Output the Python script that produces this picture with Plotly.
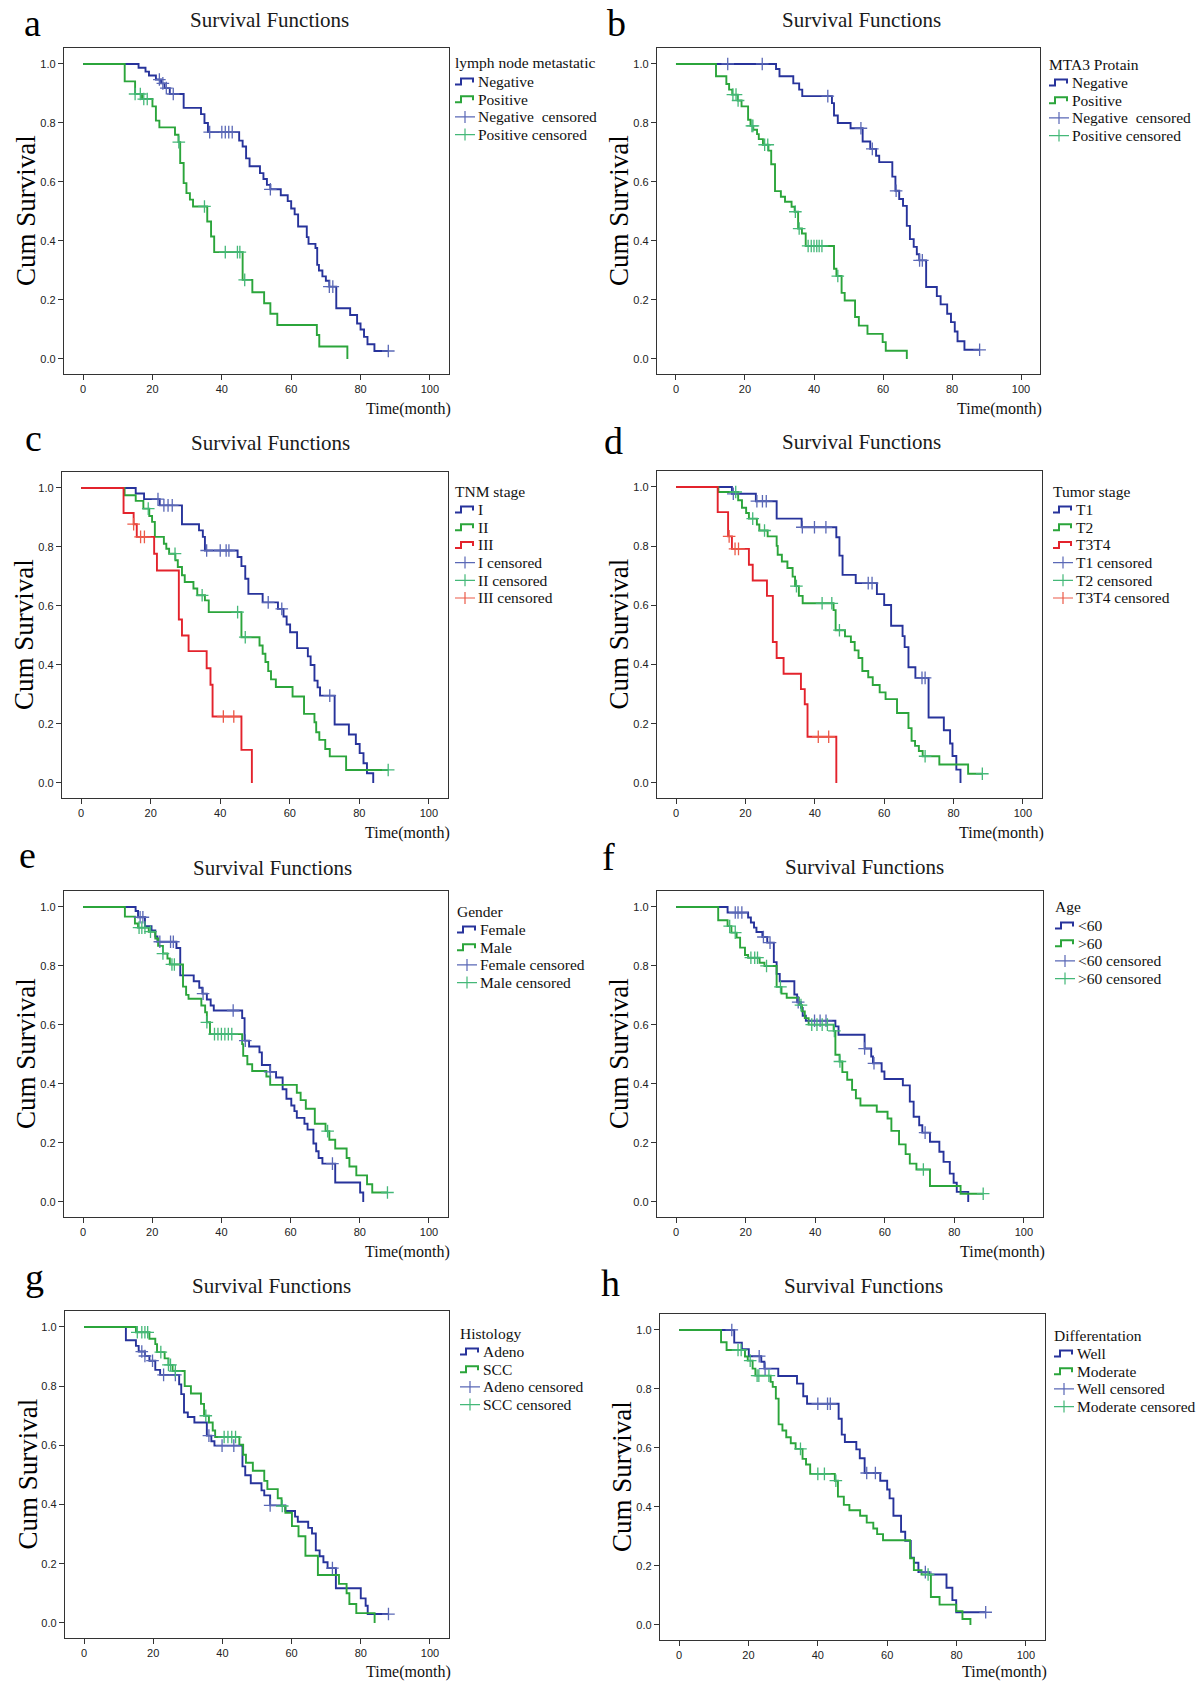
import bisect
import plotly.graph_objects as go

W, H = 1200, 1684

BLUE, BLUE_C = "#27339b", "#5a68b6"
GREEN, GREEN_C = "#2ba53b", "#44b878"
RED, RED_C = "#e3232c", "#ec5a48"

X_TICKS = [0, 20, 40, 60, 80, 100]
Y_TICKS = [0.0, 0.2, 0.4, 0.6, 0.8, 1.0]
PANEL_LETTERS = ["a", "b", "c", "d", "e", "f", "g", "h"]
PANEL_TITLE = "Survival Functions"
Y_TITLE = "Cum Survival"
X_TITLE = "Time(month)"

# ---------------- data (event times, survival after event, end of follow-up, censored times)
# a: lymph node metastatic
A_NEG_T = [16, 18, 19, 21, 22.5, 23.5, 25, 29, 34, 35, 36, 45, 46, 47, 48, 51, 52, 53, 54, 57, 59, 60, 61, 62, 64.5, 65, 67, 67.5, 68, 69, 70, 71, 73, 77, 79, 80, 81, 82, 84]
A_NEG_S = [0.987, 0.974, 0.961, 0.947, 0.934, 0.918, 0.898, 0.851, 0.830, 0.800, 0.769, 0.740, 0.720, 0.680, 0.653, 0.630, 0.610, 0.590, 0.575, 0.555, 0.535, 0.510, 0.490, 0.449, 0.413, 0.390, 0.376, 0.319, 0.300, 0.280, 0.265, 0.245, 0.172, 0.149, 0.120, 0.100, 0.075, 0.050, 0.027]
A_NEG_END = 88
A_NEG_CENS = [22, 23, 24, 26, 36.5, 40, 41, 42, 43, 54, 71, 72, 88]
A_POS_T = [12, 15, 17, 20, 21, 22, 26.5, 27.5, 28, 29, 29.8, 30.8, 31.7, 35.8, 36.9, 37.8, 46, 48.8, 52.2, 54, 56, 67.4, 68.1, 76.2]
A_POS_S = [0.941, 0.898, 0.881, 0.856, 0.808, 0.785, 0.760, 0.735, 0.664, 0.596, 0.562, 0.540, 0.517, 0.466, 0.415, 0.362, 0.268, 0.226, 0.189, 0.153, 0.115, 0.081, 0.042, 0.0]
A_POS_END = 76.2
A_POS_CENS = [15, 16.5, 17.5, 18.5, 27.6, 35, 41, 44.5, 45.2, 46.6]

# b: MTA3 Protain
B_NEG_T = [29, 30, 34, 35.7, 36.6, 45.2, 45.8, 46.9, 50.6, 54.1, 56.3, 58, 58.9, 62.7, 63.6, 64.7, 65.8, 66.9, 67.8, 68.9, 69.8, 70.5, 72.5, 75.6, 76.7, 78.6, 79.7, 80.8, 81.6, 83.6]
B_NEG_S = [0.983, 0.958, 0.934, 0.913, 0.891, 0.867, 0.825, 0.800, 0.782, 0.737, 0.712, 0.689, 0.667, 0.618, 0.570, 0.542, 0.519, 0.451, 0.406, 0.380, 0.355, 0.334, 0.244, 0.213, 0.185, 0.153, 0.125, 0.093, 0.060, 0.031]
B_NEG_END = 88
B_NEG_CENS = [15, 25, 44, 53.6, 56.9, 63.8, 70.6, 71.4, 88]
B_POS_T = [11.6, 14.6, 15.4, 16.3, 17.9, 19, 20.9, 21.6, 22.4, 23.5, 24, 25.2, 26.8, 27.6, 28.7, 30.4, 31.6, 33.5, 34.4, 35.4, 36.5, 37.6, 45.8, 46.5, 48, 48.9, 51.9, 53, 55.5, 59.9, 60.8, 66.9]
B_POS_S = [0.958, 0.932, 0.913, 0.896, 0.876, 0.856, 0.811, 0.790, 0.777, 0.762, 0.745, 0.726, 0.706, 0.660, 0.569, 0.550, 0.533, 0.516, 0.499, 0.442, 0.425, 0.383, 0.306, 0.281, 0.224, 0.198, 0.142, 0.113, 0.085, 0.057, 0.028, 0.0]
B_POS_END = 66.9
B_POS_CENS = [16.5, 17.4, 18, 22, 22.3, 25.7, 26.6, 34.6, 35.7, 38.3, 39.2, 40, 40.8, 41.5, 42.3, 46.9]

# c: TNM stage
C_I_T = [15.7, 18.1, 22.6, 29, 33.9, 35, 35.6, 45, 46.1, 47.2, 48.1, 52.2, 56.6, 58.2, 59.1, 60.1, 62.1, 65.2, 66, 67.1, 68, 68.7, 72.9, 77, 79, 80.1, 81.2, 82.2, 84]
C_I_S = [0.981, 0.962, 0.941, 0.877, 0.856, 0.834, 0.788, 0.766, 0.735, 0.692, 0.641, 0.612, 0.590, 0.564, 0.537, 0.511, 0.457, 0.429, 0.400, 0.347, 0.324, 0.296, 0.198, 0.164, 0.132, 0.101, 0.067, 0.033, 0.0]
C_I_END = 84
C_I_CENS = [22.1, 23.8, 25, 26.2, 36.1, 40, 41.7, 42.5, 53.8, 57.7, 71.5]
C_II_T = [12.5, 15.7, 17.9, 19.6, 20.4, 21.2, 23.8, 24.5, 25.3, 27.1, 27.8, 29, 29.8, 32.3, 33.4, 35.6, 36.7, 46.1, 51.3, 52.2, 53, 53.8, 54.6, 56, 60.8, 64.1, 67.1, 67.6, 68.5, 70.2, 71.5, 76.2]
C_II_S = [0.975, 0.956, 0.930, 0.905, 0.885, 0.834, 0.811, 0.794, 0.777, 0.755, 0.732, 0.704, 0.681, 0.659, 0.636, 0.619, 0.579, 0.494, 0.466, 0.438, 0.410, 0.379, 0.351, 0.325, 0.293, 0.234, 0.206, 0.172, 0.146, 0.115, 0.090, 0.044]
C_II_END = 88.3
C_II_CENS = [19.3, 27, 34.8, 45, 47.2, 88.3]
C_III_T = [12.2, 15.1, 16, 21, 21.8, 28.1, 29, 30.9, 36.1, 37.2, 37.8, 46.1, 49.1]
C_III_S = [0.915, 0.877, 0.834, 0.777, 0.720, 0.554, 0.500, 0.447, 0.389, 0.333, 0.225, 0.112, 0.0]
C_III_END = 49.1
C_III_CENS = [15.1, 17.1, 18.2, 40.9, 43.9]

# d: Tumor stage
D_T1_T = [16.1, 23, 29, 36.2, 46.2, 47.1, 48, 51.8, 57.9, 60, 62, 65.3, 65.9, 67, 69, 72.8, 77.2, 79, 79.7, 80.8, 82]
D_T1_S = [0.977, 0.952, 0.893, 0.864, 0.830, 0.768, 0.703, 0.675, 0.638, 0.601, 0.531, 0.496, 0.459, 0.391, 0.355, 0.221, 0.178, 0.133, 0.091, 0.045, 0.0]
D_T1_END = 82
D_T1_CENS = [16.5, 23.3, 24.9, 26, 36.4, 39.9, 43.2, 55.4, 56.5, 70.9, 71.8]
D_T2_T = [12.2, 17.9, 19, 20.2, 21, 23.3, 24, 26.4, 29, 29.3, 30.5, 32.1, 33.6, 34.3, 35.4, 36.5, 45.4, 46, 48.7, 50.4, 51.5, 52.6, 53.7, 55.4, 56.7, 58.7, 60.4, 63.7, 67, 67.9, 68.9, 70, 71.1, 75.9, 84.2]
D_T2_S = [0.983, 0.955, 0.930, 0.912, 0.893, 0.873, 0.853, 0.833, 0.801, 0.771, 0.748, 0.726, 0.697, 0.665, 0.632, 0.607, 0.584, 0.516, 0.495, 0.476, 0.448, 0.422, 0.378, 0.357, 0.331, 0.306, 0.283, 0.236, 0.185, 0.142, 0.125, 0.108, 0.090, 0.062, 0.031]
D_T2_END = 88.3
D_T2_CENS = [17.2, 22.1, 25.5, 34.7, 42.1, 44.9, 47.1, 71.8, 88.3]
D_T34_T = [12, 15, 16.1, 21, 22.1, 26.2, 27.9, 29, 31, 36, 37.1, 37.9, 46.2]
D_T34_S = [0.915, 0.833, 0.791, 0.737, 0.684, 0.632, 0.476, 0.422, 0.369, 0.317, 0.266, 0.156, 0.0]
D_T34_END = 46.2
D_T34_CENS = [15.3, 17, 18, 41, 44]

# e: Gender
E_F_T = [15.2, 15.9, 17.9, 19.8, 20.9, 21.5, 27, 28.1, 32, 33.6, 34.5, 35.8, 36.9, 37.8, 46, 46.7, 48, 51, 51.7, 54.1, 55.8, 57.7, 58.8, 60.2, 61.1, 61.8, 64, 64.9, 66.6, 67.4, 68.1, 69.2, 72.9, 80.1, 81]
E_F_S = [0.986, 0.965, 0.935, 0.920, 0.900, 0.882, 0.861, 0.768, 0.748, 0.726, 0.706, 0.686, 0.666, 0.649, 0.623, 0.547, 0.527, 0.507, 0.464, 0.441, 0.422, 0.382, 0.350, 0.327, 0.308, 0.285, 0.265, 0.245, 0.198, 0.172, 0.149, 0.130, 0.066, 0.032, 0.0]
E_F_END = 81
E_F_CENS = [16.5, 17.3, 22.2, 25.3, 26.1, 34.7, 43.4, 46.9, 54.1, 72.1]
E_M_T = [12.1, 15, 15.9, 19, 20.9, 21.7, 23.1, 24.4, 25.1, 28.9, 29.8, 30.5, 34.2, 35.3, 35.8, 36.7, 46, 46.3, 47.5, 48.9, 53, 54.1, 61.8, 62.9, 64.4, 67, 70.1, 71.2, 72.9, 76.2, 77, 79, 82.1, 83.6]
E_M_S = [0.967, 0.944, 0.930, 0.916, 0.893, 0.868, 0.842, 0.825, 0.805, 0.730, 0.702, 0.689, 0.666, 0.643, 0.609, 0.569, 0.535, 0.495, 0.467, 0.444, 0.425, 0.397, 0.370, 0.345, 0.316, 0.265, 0.240, 0.211, 0.181, 0.149, 0.120, 0.090, 0.060, 0.032]
E_M_END = 88
E_M_CENS = [16.2, 17, 17.9, 19.5, 23.1, 25.7, 26.4, 35.8, 38, 39, 40, 41, 42, 43, 70.7, 88]

# f: Age
F_Y_T = [14.8, 20.7, 21.5, 22.4, 23.1, 24.8, 26.2, 28.1, 28.9, 29.8, 34, 34.8, 35.9, 36.4, 37.3, 45.8, 46.7, 54.2, 56.1, 56.6, 59.1, 59.9, 65.2, 67.2, 68.3, 69.9, 70.8, 73, 75.7, 76.9, 78.7, 79.8, 80.7, 84]
F_Y_S = [0.981, 0.964, 0.947, 0.930, 0.915, 0.898, 0.879, 0.813, 0.773, 0.748, 0.703, 0.677, 0.658, 0.631, 0.614, 0.595, 0.567, 0.520, 0.493, 0.470, 0.442, 0.417, 0.395, 0.340, 0.289, 0.260, 0.235, 0.204, 0.170, 0.136, 0.096, 0.065, 0.034, 0.0]
F_Y_END = 84
F_Y_CENS = [17, 17.8, 18.9, 25.1, 27, 35.1, 39.8, 41.4, 43.1, 54.2, 56.9, 71.6]
F_O_T = [12.1, 14.8, 15.9, 17.4, 18.4, 19.8, 20.7, 24, 25.4, 28.9, 30.3, 31.8, 35.3, 36.2, 37, 38.1, 45.3, 45.8, 47, 47.8, 49.2, 50.6, 51.7, 53, 57.7, 60.8, 61.9, 64.1, 66, 67.2, 69.1, 73, 81.8]
F_O_S = [0.955, 0.935, 0.913, 0.896, 0.862, 0.837, 0.828, 0.811, 0.800, 0.729, 0.706, 0.692, 0.667, 0.646, 0.623, 0.601, 0.580, 0.499, 0.476, 0.440, 0.414, 0.380, 0.351, 0.327, 0.306, 0.283, 0.241, 0.195, 0.162, 0.130, 0.110, 0.054, 0.028]
F_O_END = 88.3
F_O_CENS = [15.4, 17, 21.5, 22.6, 23.4, 26, 30, 35.9, 39, 40.5, 42, 43.5, 45.5, 47.1, 71.1, 88.3]

# g: Histology
G_A_T = [12.1, 15, 15.8, 17.6, 18.9, 20.6, 22, 27.5, 28.1, 28.9, 30, 31.9, 35.5, 36.8, 37.7, 45.8, 46.6, 48.2, 51.3, 52.1, 53.8, 58.2, 61, 61.8, 64.8, 65.9, 67, 68.1, 69.2, 70.4, 72.8, 80, 81.4, 82]
G_A_S = [0.955, 0.936, 0.917, 0.902, 0.886, 0.855, 0.838, 0.806, 0.773, 0.711, 0.696, 0.677, 0.633, 0.614, 0.599, 0.529, 0.499, 0.472, 0.448, 0.431, 0.397, 0.378, 0.359, 0.342, 0.321, 0.302, 0.245, 0.225, 0.205, 0.185, 0.117, 0.083, 0.058, 0.030]
G_A_END = 88
G_A_CENS = [16.7, 17.6, 19.8, 23, 26.4, 36.1, 39.9, 43.3, 53.8, 71.8, 88]
G_S_T = [15, 18.9, 20.6, 21.1, 23.3, 24.4, 25.6, 29.1, 30.9, 33.8, 34.7, 36.1, 37.2, 37.9, 44.9, 46, 46.8, 48.8, 52.1, 53, 56, 57.1, 58.2, 60.1, 62, 64, 67.6, 73.7, 75.9, 76.7, 78.7, 84]
G_S_S = [0.982, 0.960, 0.942, 0.915, 0.894, 0.872, 0.851, 0.800, 0.775, 0.740, 0.700, 0.677, 0.650, 0.628, 0.602, 0.568, 0.541, 0.514, 0.480, 0.452, 0.421, 0.395, 0.372, 0.327, 0.293, 0.227, 0.162, 0.132, 0.100, 0.064, 0.033, 0.0]
G_S_END = 84
G_S_CENS = [15.4, 16.7, 17.6, 18.4, 22.2, 24.4, 25, 26.4, 35.2, 40.5, 41.6, 42.7, 43.8, 57.3]

# h: Differentation
H_W_T = [15.9, 18.1, 20.1, 23.7, 24.6, 28.6, 34, 35.8, 36.9, 46, 46.9, 47.8, 51.1, 52.1, 53.5, 58, 60, 60.7, 61.8, 64, 65.2, 66.8, 67.7, 69, 72.1, 77.1, 78.8, 79.9]
H_W_S = [0.957, 0.935, 0.911, 0.892, 0.869, 0.844, 0.818, 0.775, 0.750, 0.699, 0.645, 0.620, 0.595, 0.565, 0.515, 0.489, 0.459, 0.429, 0.370, 0.316, 0.285, 0.228, 0.211, 0.179, 0.171, 0.126, 0.084, 0.043]
H_W_END = 88.4
H_W_CENS = [15.2, 23.1, 24.8, 40, 42.8, 43.6, 54.1, 56.6, 71, 88.4]
H_M_T = [12.1, 13.7, 19, 19.8, 21.2, 22, 26.4, 27, 27.9, 28.7, 29.8, 30.9, 32.2, 33.6, 35.6, 36.6, 37.8, 44.9, 45.8, 47.5, 49.1, 52.2, 54.1, 56, 57.1, 58.8, 66.6, 67.7, 69.9, 72.6, 75.1, 79.9, 81.7, 84]
H_M_S = [0.958, 0.932, 0.910, 0.896, 0.869, 0.845, 0.824, 0.807, 0.767, 0.680, 0.659, 0.636, 0.616, 0.597, 0.563, 0.544, 0.512, 0.489, 0.435, 0.407, 0.389, 0.370, 0.347, 0.327, 0.308, 0.287, 0.226, 0.186, 0.171, 0.095, 0.069, 0.047, 0.020, 0.0]
H_M_END = 84
H_M_CENS = [17, 17.9, 20.5, 22.5, 23, 25.9, 35, 40, 41.9, 45.2, 71.8]

LEGEND_TITLES = ["lymph node metastatic", "MTA3 Protain", "TNM stage", "Tumor stage",
                 "Gender", "Age", "Histology", "Differentation"]
CENSOR_LABELS = [
    ["Negative\u00a0 censored", "Positive censored"],
    ["Negative\u00a0 censored", "Positive censored"],
    ["I censored", "II censored", "III censored"],
    ["T1 censored", "T2 censored", "T3T4 censored"],
    ["Female censored", "Male censored"],
    ["<60 censored", ">60 censored"],
    ["Adeno censored", "SCC censored"],
    ["Well censored", "Moderate censored"],
]
GROUPS = [
    [("Negative", A_NEG_T, A_NEG_S, A_NEG_END, A_NEG_CENS), ("Positive", A_POS_T, A_POS_S, A_POS_END, A_POS_CENS)],
    [("Negative", B_NEG_T, B_NEG_S, B_NEG_END, B_NEG_CENS), ("Positive", B_POS_T, B_POS_S, B_POS_END, B_POS_CENS)],
    [("I", C_I_T, C_I_S, C_I_END, C_I_CENS), ("II", C_II_T, C_II_S, C_II_END, C_II_CENS), ("III", C_III_T, C_III_S, C_III_END, C_III_CENS)],
    [("T1", D_T1_T, D_T1_S, D_T1_END, D_T1_CENS), ("T2", D_T2_T, D_T2_S, D_T2_END, D_T2_CENS), ("T3T4", D_T34_T, D_T34_S, D_T34_END, D_T34_CENS)],
    [("Female", E_F_T, E_F_S, E_F_END, E_F_CENS), ("Male", E_M_T, E_M_S, E_M_END, E_M_CENS)],
    [("<60", F_Y_T, F_Y_S, F_Y_END, F_Y_CENS), (">60", F_O_T, F_O_S, F_O_END, F_O_CENS)],
    [("Adeno", G_A_T, G_A_S, G_A_END, G_A_CENS), ("SCC", G_S_T, G_S_S, G_S_END, G_S_CENS)],
    [("Well", H_W_T, H_W_S, H_W_END, H_W_CENS), ("Moderate", H_M_T, H_M_S, H_M_END, H_M_CENS)],
]

# ---------------- layout (pixel positions)
BOXES = [(64, 449, 48, 374), (657, 1040, 48, 374),
         (62, 448, 472, 798), (657, 1042, 471, 798),
         (64, 448, 891, 1217), (657, 1043, 891, 1217),
         (65, 449, 1311, 1638), (660, 1045, 1314, 1640)]
LETTER_POS = [(32, None), (616, None), (33, 438), (613, 441), (27, 855), (608, 857), (34, 1277), (610, 1283)]
TITLE_POS = [(269, 20), (861, 20), (270, 443), (861, 442), (272, 868), (864, 867), (271, 1286), (863, 1286)]
LEGEND_POS = [(453, 63), (1047, 64), (453, 491), (1051, 491), (455, 911), (1053, 907), (458, 1333), (1052, 1335)]
LEG_FIRST, LEG_STEP = 18.5, 17.7

COLORS = [(BLUE, BLUE_C), (GREEN, GREEN_C), (RED, RED_C)]
X_RANGE = [-5.5, 105.5]
Y_RANGE = [-0.051, 1.054]
SERIF = "Liberation Serif"


def step_xy(t, s, end):
    return [0] + list(t) + [end], [1.0] + list(s) + [s[-1]]


def surv_at(t, s, c):
    i = bisect.bisect_right(t, c)
    return 1.0 if i == 0 else s[i - 1]


def px(x):
    return x / W


def py(y):
    return 1 - y / H


fig = go.Figure()
annotations = []
shapes = []
layout = {}
for i in range(8):
    k = "" if i == 0 else str(i + 1)
    xa, ya = "x" + k, "y" + k
    x0, x1, y0, y1 = BOXES[i]
    curves = GROUPS[i]
    for j, (name, t, s, end, cens) in enumerate(curves):
        xs, ys = step_xy(t, s, end)
        fig.add_trace(go.Scatter(
            x=xs, y=ys, mode="lines", name=name, xaxis=xa, yaxis=ya, showlegend=False,
            line=dict(color=COLORS[j][0], width=1.9, shape="hv"), hoverinfo="skip"))
    for j, (name, t, s, end, cens) in enumerate(curves):
        fig.add_trace(go.Scatter(
            x=list(cens), y=[surv_at(t, s, c) for c in cens], mode="markers",
            name=CENSOR_LABELS[i][j], xaxis=xa, yaxis=ya, showlegend=False,
            marker=dict(symbol="cross-thin", size=9, color=COLORS[j][1],
                        line=dict(width=1.3, color=COLORS[j][1])),
            hoverinfo="skip"))

    common = dict(showline=True, linecolor="#333333", linewidth=1.4, mirror=True,
                  ticks="outside", ticklen=5, tickwidth=1, tickcolor="#333333",
                  showgrid=False, zeroline=False, automargin=False, fixedrange=True,
                  tickfont=dict(family="Liberation Sans", size=11, color="#222222"))
    layout["xaxis" + k] = dict(common, domain=[px(x0), px(x1)], anchor=ya, range=X_RANGE,
                               tickvals=X_TICKS)
    layout["yaxis" + k] = dict(common, domain=[py(y1), py(y0)], anchor=xa, range=Y_RANGE,
                               tickvals=Y_TICKS, tickformat=".1f")

    # legend (SPSS style) : title, step glyph entries, censored glyph entries
    lx, ly = LEGEND_POS[i]
    annotations.append(dict(text=LEGEND_TITLES[i], x=px(lx), y=py(ly), xref="paper", yref="paper",
                            xanchor="left", yanchor="middle", showarrow=False,
                            font=dict(family=SERIF, size=15.5, color="#111111")))
    entries = [(name, COLORS[j][0], False) for j, (name, *_r) in enumerate(curves)] + \
              [(CENSOR_LABELS[i][j], COLORS[j][1], True) for j in range(len(curves))]
    for n, (label, col, is_cens) in enumerate(entries):
        cy = ly + LEG_FIRST + LEG_STEP * n
        gx = lx + 2
        if is_cens:
            shapes.append(dict(type="path", xref="paper", yref="paper",
                               path=f"M {px(gx)} {py(cy)} L {px(gx + 20)} {py(cy)} "
                                    f"M {px(gx + 10)} {py(cy - 6)} L {px(gx + 10)} {py(cy + 6)}",
                               line=dict(color=col, width=1.2)))
        else:
            shapes.append(dict(type="path", xref="paper", yref="paper",
                               path=f"M {px(gx)} {py(cy + 3)} L {px(gx + 6)} {py(cy + 3)} "
                                    f"L {px(gx + 6)} {py(cy - 3)} L {px(gx + 18)} {py(cy - 3)} "
                                    f"L {px(gx + 18)} {py(cy + 1)}",
                               line=dict(color=col, width=2)))
        annotations.append(dict(text=label, x=px(lx + 23), y=py(cy), xref="paper", yref="paper",
                                xanchor="left", yanchor="middle", showarrow=False,
                                font=dict(family=SERIF, size=15.5, color="#111111")))

    lxp, lyp = LETTER_POS[i]
    if lyp is None:
        annotations.append(dict(text=PANEL_LETTERS[i], x=px(lxp), y=1, xref="paper", yref="paper",
                                xanchor="center", yanchor="top", showarrow=False,
                                font=dict(family=SERIF, size=38, color="#000000")))
    else:
        annotations.append(dict(text=PANEL_LETTERS[i], x=px(lxp), y=py(lyp), xref="paper", yref="paper",
                                xanchor="center", yanchor="middle", showarrow=False,
                                font=dict(family=SERIF, size=38, color="#000000")))
    tx, ty = TITLE_POS[i]
    annotations.append(dict(text=PANEL_TITLE, x=px(tx), y=py(ty), xref="paper", yref="paper",
                            xanchor="center", yanchor="middle", showarrow=False,
                            font=dict(family=SERIF, size=21, color="#1a1a1a")))
    annotations.append(dict(text=Y_TITLE, x=px(x0 - 38), y=py((y0 + y1) / 2),
                            xref="paper", yref="paper", xanchor="center", yanchor="middle",
                            textangle=-90, showarrow=False,
                            font=dict(family=SERIF, size=27, color="#000000")))
    annotations.append(dict(text=X_TITLE, x=px(x1 + 4), y=py(min(y1 + 35, H - 12)),
                            xref="paper", yref="paper", xanchor="right", yanchor="middle",
                            showarrow=False,
                            font=dict(family=SERIF, size=16, color="#111111")))

fig.update_layout(width=W, height=H, margin=dict(l=0, r=0, t=0, b=0),
                  paper_bgcolor="white", plot_bgcolor="white", template="none",
                  showlegend=False, annotations=annotations, shapes=shapes, **layout)
fig.write_html("out.html", config={"displayModeBar": False},
               post_script="document.body.style.margin='0';")
